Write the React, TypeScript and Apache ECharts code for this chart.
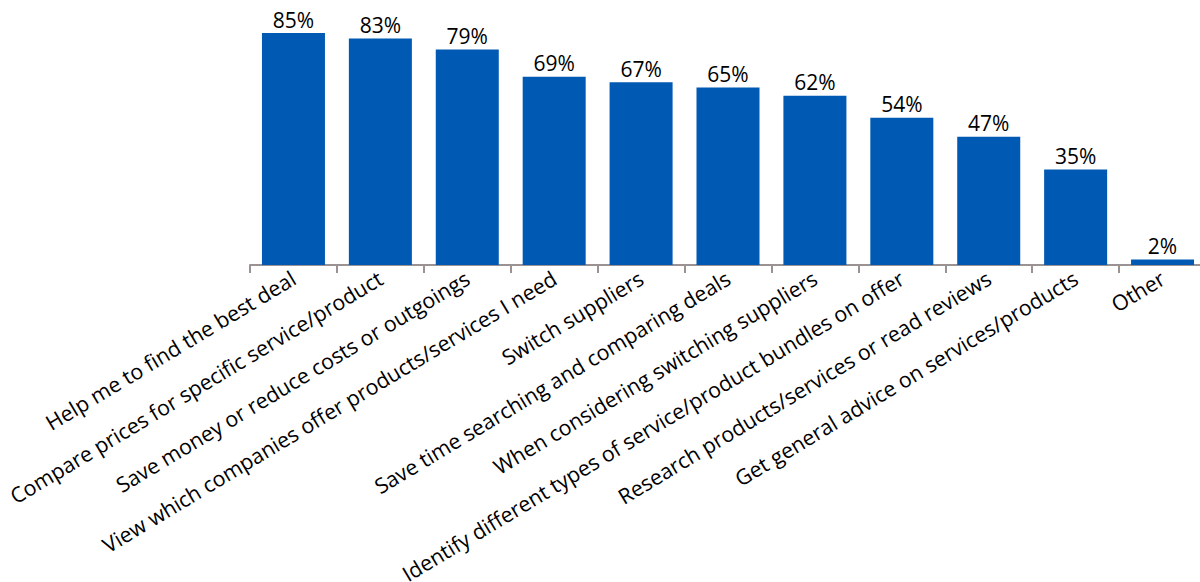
import React, { useEffect, useRef } from "react";
import * as echarts from "echarts";

const categories = [
  "Help me to find the best deal",
  "Compare prices for specific service/product",
  "Save money or reduce costs or outgoings",
  "View which companies offer products/services I need",
  "Switch suppliers",
  "Save time searching and comparing deals",
  "When considering switching suppliers",
  "Identify different types of service/product bundles on offer",
  "Research products/services or read reviews",
  "Get general advice on services/products",
  "Other",
];
const values = [85, 83, 79, 69, 67, 65, 62, 54, 47, 35, 2];

export default function App() {
  const ref = useRef<HTMLDivElement>(null);
  useEffect(() => {
    if (!ref.current) return;
    const chart = echarts.init(ref.current, undefined, { renderer: "svg" });
    chart.setOption({
      animation: false,
      grid: {
        left: 250,
        right: 4,
        top: 19.4,
        bottom: 317,
        containLabel: false,
        outerBoundsMode: "none",
      },
      xAxis: {
        type: "category",
        data: categories,
        axisLine: { lineStyle: { color: "#9b9393", width: 2 } },
        axisTick: { show: true, length: 8, lineStyle: { color: "#9b9393", width: 2 } },
        axisLabel: {
          rotate: 31,
          interval: 0,
          color: "#000",
          fontSize: 21.3,
          fontFamily: "Open Sans",
          margin: 11,
        },
      },
      yAxis: {
        type: "value",
        min: 0,
        max: 90,
        show: false,
        splitLine: { show: false },
      },
      series: [
        {
          type: "bar",
          data: values,
          barCategoryGap: "27.5%",
          itemStyle: { color: "#0059b3" },
          label: {
            show: true,
            position: "top",
            formatter: "{c}%",
            color: "#000",
            fontSize: 21,
            fontFamily: "Open Sans",
            distance: 3,
          },
        },
      ],
    });
    return () => chart.dispose();
  }, []);
  return (
    <div style={{ position: "absolute", left: 0, top: 0, width: 1200, height: 582, overflow: "hidden" }}>
      <div ref={ref} style={{ width: 1210, height: 582 }} />
    </div>
  );
}
